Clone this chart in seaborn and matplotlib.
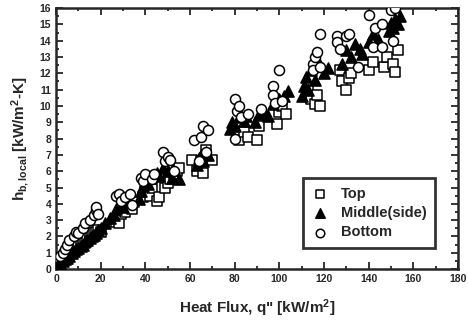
import matplotlib
matplotlib.use("Agg")
import matplotlib.pyplot as plt
from matplotlib.ticker import MultipleLocator
import seaborn as sns
import pandas as pd

# Top (open squares)
q_top = [1, 2, 3, 4, 5, 6, 7, 8, 9, 10, 11, 12, 13, 14, 15, 16, 17, 18, 19, 20,
         27, 28, 29, 30, 31, 33, 34, 35,
         39, 40, 42, 43, 45, 46,
         49, 50, 51, 53, 54, 55,
         61, 63, 65, 66, 67, 70,
         82, 84, 86, 90, 91,
         99, 100, 101, 103,
         113, 114, 116, 117, 118,
         127, 128, 130, 131, 132,
         140, 142, 147, 148, 151, 152, 153]
h_top = [0.2, 0.3, 0.5, 0.6, 0.8, 0.9, 1.0, 1.2, 1.2, 1.4, 1.5, 1.7, 1.6, 1.9, 2.0, 2.1, 2.2, 2.3, 2.4, 2.3,
         2.9, 2.8, 3.4, 3.6, 3.5, 3.9, 3.7, 4.1,
         4.4, 4.7, 4.5, 5.0, 4.2, 4.4,
         5.0, 5.3, 5.5, 5.8, 6.0, 6.2,
         6.7, 6.0, 6.6, 5.9, 7.3, 6.7,
         7.9, 8.4, 8.1, 7.9, 8.8,
         8.9, 9.6, 10.0, 9.5,
         11.0, 10.4, 10.1, 10.7, 10.0,
         12.2, 11.5, 11.0, 11.7, 12.0,
         12.2, 12.7, 12.4, 13.0, 12.6, 12.1, 13.4]

# Middle(side) (filled triangles)
q_mid = [1, 2, 3, 4, 5, 6, 7, 8, 9, 10, 11, 12, 13, 14, 15, 16, 17, 18, 19, 20, 22,
         24, 26, 27, 28, 29, 30, 31,
         37, 38, 39, 40, 41, 42,
         45, 46, 48, 50, 52, 55,
         63, 64, 65, 66, 67, 68,
         78, 79, 80, 82, 84, 85,
         89, 91, 93, 95, 97, 100, 102, 104,
         110, 111, 112, 113, 114, 116, 118, 120, 122,
         128, 130, 132, 134, 136, 137,
         140, 142, 144, 149, 150, 151, 152, 153, 154]
h_mid = [0.3, 0.4, 0.5, 0.6, 0.7, 0.8, 1.0, 1.1, 1.2, 1.3, 1.4, 1.5, 1.7, 1.8, 1.9, 2.0, 2.1, 2.2, 2.4, 2.5, 2.8,
         3.1, 3.3, 3.7, 3.9, 4.1, 3.8, 4.3,
         4.3, 4.8, 5.1, 5.4, 5.2, 5.6,
         5.9, 5.7, 6.2, 6.0, 5.6, 5.5,
         6.4, 6.8, 7.0, 6.6, 7.2, 7.0,
         8.6, 9.0, 8.8, 9.3, 9.1, 9.4,
         9.0, 9.5, 9.7, 9.4, 10.1, 10.4, 10.6, 10.9,
         10.6, 11.2, 11.8, 11.0, 12.2, 11.6, 12.5, 12.0, 12.3,
         12.6, 13.4, 13.0, 13.8, 13.5, 13.2,
         13.9, 14.4, 14.1, 14.6, 15.1, 14.8, 15.3, 15.0, 15.5]

# Bottom (open circles)
q_bot = [2, 3, 4, 5, 6, 8, 9, 10, 12, 13, 15, 17, 18, 18, 19,
         27, 28, 29, 31, 33, 34,
         38, 39, 40, 43, 44,
         48, 49, 50, 51, 53,
         62, 64, 65, 66, 67, 68,
         80, 80, 81, 82, 83, 86,
         92, 97, 97, 98, 100, 101,
         115, 115, 116, 117, 118, 118,
         126, 126, 127, 130, 131, 135,
         140, 142, 143, 146, 146, 150, 151, 152]
h_bot = [0.8, 1.0, 1.2, 1.5, 1.8, 2.0, 2.3, 2.2, 2.5, 2.8, 3.0, 3.3, 3.6, 3.8, 3.4,
         4.5, 4.6, 4.2, 4.4, 4.6, 3.9,
         5.6, 5.4, 5.8, 5.5, 5.8,
         7.2, 6.6, 6.9, 6.7, 6.0,
         7.9, 6.6, 8.1, 8.8, 7.2, 8.5,
         10.4, 8.0, 9.7, 10.0, 9.3, 9.5,
         9.8, 11.2, 10.7, 10.2, 12.2, 10.3,
         12.6, 12.2, 13.0, 13.3, 14.4, 12.4,
         14.3, 13.9, 13.5, 14.3, 14.4, 12.4,
         15.6, 13.6, 14.8, 15.0, 13.6, 15.9, 14.0, 16.0]

df = pd.concat([
    pd.DataFrame({"q": q_top, "h": h_top, "loc": "Top"}),
    pd.DataFrame({"q": q_mid, "h": h_mid, "loc": "Middle(side)"}),
    pd.DataFrame({"q": q_bot, "h": h_bot, "loc": "Bottom"}),
])

sns.set_style("ticks")
plt.rcParams['font.family'] = ['Liberation Sans', 'DejaVu Sans']
plt.rcParams['mathtext.fontset'] = 'custom'
plt.rcParams['mathtext.rm'] = 'Liberation Sans:bold'
plt.rcParams['mathtext.it'] = 'Liberation Sans:bold'
plt.rcParams['mathtext.bf'] = 'Liberation Sans:bold'

fig = plt.figure(figsize=(4.68, 3.23), dpi=100)
ax = fig.add_axes([0.1197, 0.167, 0.859, 0.808])

styles = {
    "Top": dict(marker="s", facecolor="white", s=46),
    "Middle(side)": dict(marker="^", facecolor="black", s=64),
    "Bottom": dict(marker="o", facecolor="white", s=52),
}
for name in ["Top", "Middle(side)", "Bottom"]:
    st = styles[name]
    sns.scatterplot(data=df[df["loc"] == name], x="q", y="h", ax=ax,
                    marker=st["marker"], s=st["s"], color=st["facecolor"],
                    edgecolor="black", linewidth=1.1, label=name, zorder=3)

ax.set_xlim(0, 180)
ax.set_ylim(0, 16)
ax.xaxis.set_major_locator(MultipleLocator(20))
ax.xaxis.set_minor_locator(MultipleLocator(10))
ax.yaxis.set_major_locator(MultipleLocator(1))
ax.yaxis.set_minor_locator(MultipleLocator(0.5))
ax.tick_params(which="both", direction="in", top=True, right=True,
               width=1.3, labelsize=7.5)
ax.tick_params(which="major", length=5)
ax.tick_params(which="minor", length=2.5)
for lab in ax.get_xticklabels() + ax.get_yticklabels():
    lab.set_fontweight("bold")
for sp in ax.spines.values():
    sp.set_linewidth(1.8)

ax.set_xlabel("Heat Flux, q\" [kW/m$^2$]", fontsize=11, fontweight="bold", labelpad=10)
ax.set_ylabel("h$_{b,local}$ [kW/m$^2$-K]", fontsize=11, fontweight="bold", labelpad=6)

leg = ax.legend(loc="lower right", bbox_to_anchor=(0.943, 0.08), frameon=True,
                fancybox=False, fontsize=10.5, handletextpad=0.8, handlelength=1.2,
                borderpad=0.6, labelspacing=0.35, markerscale=0.85,
                borderaxespad=0)
leg.get_frame().set_edgecolor("black")
leg.get_frame().set_linewidth(2)
for t in leg.get_texts():
    t.set_fontweight("bold")

plt.savefig("out.png", dpi=100)
